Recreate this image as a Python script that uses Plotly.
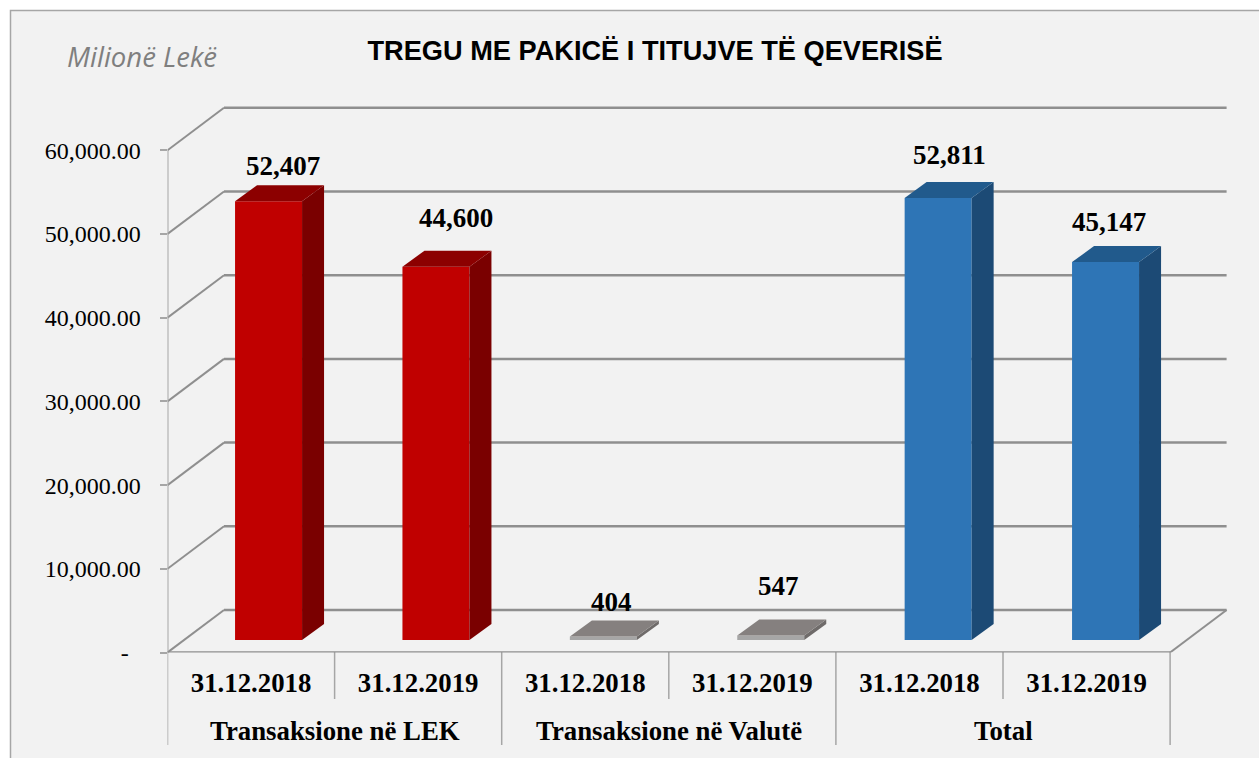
import plotly.graph_objects as go

# ---- data ----
date_labels = ["31.12.2018", "31.12.2019", "31.12.2018", "31.12.2019", "31.12.2018", "31.12.2019"]
group_labels = ["Transaksione në LEK", "Transaksione në Valutë", "Total"]
values = [52407, 44600, 404, 547, 52811, 45147]
y_ticks = [0, 10000, 20000, 30000, 40000, 50000, 60000]
y_tick_text = ["-\u00a0\u00a0", "10,000.00", "20,000.00", "30,000.00", "40,000.00", "50,000.00", "60,000.00"]

# ---- style ----
W, H = 1259, 758
X0_PX, X_RIGHT_PX, Y0_PX, YTOP_PX = 167.5, 1229, 652.5, 106
PX_PER_CAT = 167.1
PX_PER_VAL = 83.7 / 10000
def dxu(px): return px / PX_PER_CAT
def dyu(px): return px / PX_PER_VAL
def py(px): return 1 - px / H

front = ["#c00000", "#c00000", "#a6a6a6", "#a6a6a6", "#2e75b6", "#2e75b6"]
top_c = ["#8c0000", "#8c0000", "#85807f", "#85807f", "#215a8c", "#215a8c"]
side_c = ["#7a0000", "#7a0000", "#6f6b6a", "#6f6b6a", "#1c4a75", "#1c4a75"]
label_dx = [14, 20, 8, 8, 11, 3]
label_dy = [35, 49, 35, 49, 43, 40]
GRID = "#8f8f8f"
SERIF = "Liberation Serif"

BAR_W = 67 / PX_PER_CAT
SHIFT = dxu(17.5)
BAR_STEP = 167.4 / PX_PER_CAT
BASE = dyu(12.5)
DX = dxu(22)
DY = dyu(16)
WALL_DX = dxu(56.5)
WALL_DY = dyu(42.5)

fig = go.Figure()
xs = [i * BAR_STEP + SHIFT for i in range(len(values))]

# 3D side and top faces
for x, v, t, s in zip(xs, values, top_c, side_c):
    r = x + BAR_W / 2
    l = x - BAR_W / 2
    top = BASE + v
    fig.add_trace(go.Scatter(x=[r, r + DX, r + DX, r, r], y=[BASE, BASE + DY, top + DY, top, BASE],
                             fill="toself", fillcolor=s, mode="none", hoverinfo="skip", showlegend=False))
    fig.add_trace(go.Scatter(x=[l, r, r + DX, l + DX, l], y=[top, top, top + DY, top + DY, top],
                             fill="toself", fillcolor=t, mode="none", hoverinfo="skip", showlegend=False))

# front faces
fig.add_trace(go.Bar(x=xs, y=values, base=[BASE] * len(values), width=BAR_W,
                     marker=dict(color=front, line=dict(width=0)), showlegend=False))

shapes = []
# panel
shapes.append(dict(type="rect", xref="paper", yref="paper", x0=10.5 / W, x1=1.01, y0=-0.01, y1=py(10.5),
                   fillcolor="#f2f2f2", line=dict(color="#a6a6a6", width=1.5), layer="below"))
# wall and floor lines
x_l = -0.5
x_r = 5.5
for t in y_ticks:
    shapes.append(dict(type="line", x0=x_l, x1=x_l + WALL_DX, y0=t, y1=t + WALL_DY,
                       line=dict(color=GRID, width=2), layer="below"))
    shapes.append(dict(type="line", x0=x_l + WALL_DX, x1=x_r + WALL_DX, y0=t + WALL_DY, y1=t + WALL_DY,
                       line=dict(color=GRID, width=2.5), layer="below"))
shapes.append(dict(type="line", x0=x_l, x1=x_l, y0=0, y1=y_ticks[-1], line=dict(color="#a6a6a6", width=2), layer="below"))
shapes.append(dict(type="line", x0=x_l, x1=x_r, y0=0, y1=0, line=dict(color=GRID, width=2.5), layer="below"))
shapes.append(dict(type="line", x0=x_r, x1=x_r + WALL_DX, y0=0, y1=WALL_DY, line=dict(color=GRID, width=2), layer="below"))
# category dividers
for i in range(7):
    long_tick = i % 2 == 0
    shapes.append(dict(type="line", xref="x", yref="paper", x0=x_l + i, x1=x_l + i,
                       y0=py(745 if long_tick else 699), y1=py(652),
                       line=dict(color="#a6a6a6", width=1.5), layer="below"))

annotations = []
for x, v, dx, dy in zip(xs, values, label_dx, label_dy):
    annotations.append(dict(x=x, y=BASE + v, xref="x", yref="y", text=f"<b>{v:,}</b>", showarrow=False,
                            xshift=dx, yshift=dy, xanchor="center", yanchor="middle",
                            font=dict(family=SERIF, size=27, color="#000000")))
for j, g in enumerate(group_labels):
    annotations.append(dict(x=2 * j + 0.5, y=py(731), xref="x", yref="paper", text=f"<b>{g}</b>", showarrow=False,
                            xanchor="center", yanchor="middle",
                            font=dict(family=SERIF, size=26.8, color="#000000")))
annotations.append(dict(x=141.5 / W, y=py(56), xref="paper", yref="paper", text="Milionë Lekë", showarrow=False,
                        xanchor="center", yanchor="middle",
                        font=dict(family="Open Sans", size=27.5, color="#7f7f7f", style="italic")))

fig.update_layout(
    width=W, height=H, margin=dict(l=0, r=0, t=0, b=0),
    paper_bgcolor="#ffffff", plot_bgcolor="rgba(0,0,0,0)", showlegend=False,
    title=dict(text="<b>TREGU ME PAKICË I TITUJVE TË QEVERISË</b>", x=655 / W, xanchor="center",
               y=py(50), yanchor="middle", font=dict(family="Liberation Sans", size=27.2, color="#000000")),
    xaxis=dict(domain=[X0_PX / W, X_RIGHT_PX / W], range=[-0.5, -0.5 + (X_RIGHT_PX - X0_PX) / PX_PER_CAT],
               automargin=False,
               tickmode="array", tickvals=list(range(6)), ticktext=[f"<b>{d}</b>" for d in date_labels],
               showgrid=False, zeroline=False, showline=False, ticks="",
               tickfont=dict(family=SERIF, size=26.8, color="#000000"), ticklabelstandoff=12),
    yaxis=dict(domain=[1 - Y0_PX / H, 1 - YTOP_PX / H], range=[0, (Y0_PX - YTOP_PX) / PX_PER_VAL],
               automargin=False,
               tickmode="array", tickvals=y_ticks, ticktext=y_tick_text,
               showgrid=False, zeroline=False, showline=False, ticks="outside", ticklen=7, tickwidth=1.5,
               tickcolor="#a6a6a6", tickfont=dict(family=SERIF, size=24, color="#000000"), ticklabelstandoff=14),
    shapes=shapes, annotations=annotations,
)
fig.write_html("out.html", config=dict(displayModeBar=False),
               post_script="document.body.style.margin='0';document.body.style.overflow='hidden';")
